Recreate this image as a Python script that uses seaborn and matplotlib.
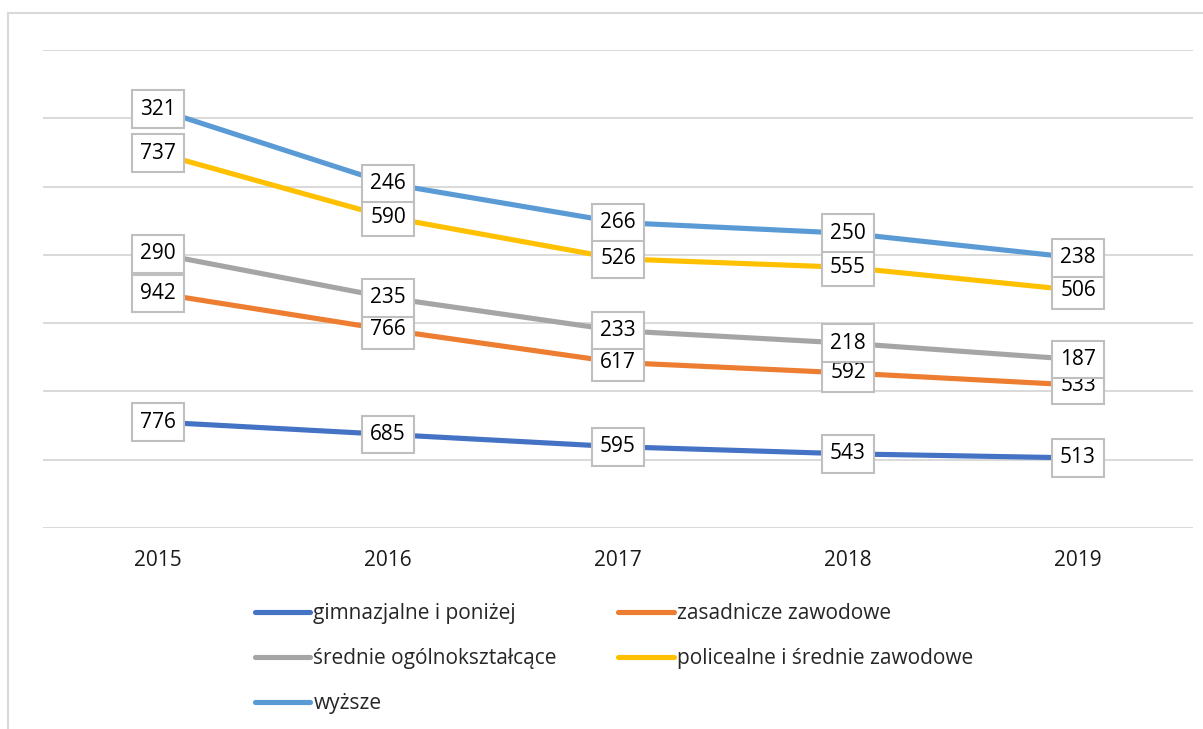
import numpy as np
import pandas as pd
import seaborn as sns
import matplotlib.pyplot as plt
from matplotlib.patches import Rectangle

years = ['2015', '2016', '2017', '2018', '2019']
series = ['gimnazjalne i poniżej', 'zasadnicze zawodowe', 'średnie ogólnokształcące',
          'policealne i średnie zawodowe', 'wyższe']
gimnazjalne = [776, 685, 595, 543, 513]
zasadnicze = [942, 766, 617, 592, 533]
srednie = [290, 235, 233, 218, 187]
policealne = [737, 590, 526, 555, 506]
wyzsze = [321, 246, 266, 250, 238]
colors = ['#4472C4', '#ED7D31', '#A5A5A5', '#FFC000', '#5B9BD5']

vals = np.array([gimnazjalne, zasadnicze, srednie, policealne, wyzsze])
stacked = vals.cumsum(axis=0)  # stacked line chart

rows = []
for i, name in enumerate(series):
    for j, yr in enumerate(years):
        rows.append({'seria': name, 'x': j, 'y': stacked[i, j], 'label': vals[i, j]})
df = pd.DataFrame(rows)

sns.set_style('white')
plt.rcParams['font.family'] = ['Open Sans', 'DejaVu Sans']

fig = plt.figure(figsize=(12.03, 7.29), dpi=100)
ax = fig.add_axes([43/1203, 1 - 528/729, 1150/1203, 478/729])

sns.lineplot(data=df, x='x', y='y', hue='seria', palette=colors, hue_order=series,
             linewidth=3.7, ax=ax, legend=True, zorder=3)

# data labels in white boxes
for i, name in enumerate(series):
    sub = df[df['seria'] == name]
    for _, r in sub.iterrows():
        ax.text(r['x'], r['y'], str(r['label']), ha='center', va='center', fontsize=15,
                color='black', zorder=10 + i,
                bbox=dict(boxstyle='square,pad=0.4', facecolor='white', edgecolor='#BFBFBF', linewidth=1.5))

ax.set_xlim(-0.5, 4.5)
ax.set_ylim(0, 3500)
ax.set_yticks(np.arange(0, 3501, 500))
ax.set_yticklabels([])
ax.set_xticks(range(5))
ax.set_xticklabels(years, fontsize=15, color='#1a1a1a')
ax.tick_params(axis='x', length=0, pad=16)
ax.tick_params(axis='y', length=0)
ax.grid(axis='y', color='#D9D9D9', linewidth=1.4)
ax.set_axisbelow(True)
for s in ax.spines.values():
    s.set_visible(False)
ax.set_xlabel('')
ax.set_ylabel('')

handles, labels = ax.get_legend_handles_labels()
ax.get_legend().remove()
order = [0, 2, 4, 1, 3]
leg = fig.legend([handles[k] for k in order], [labels[k] for k in order], ncol=2,
                 loc='upper left', bbox_to_anchor=(255/1203, 1 - 603/729), frameon=False,
                 fontsize=15, handlelength=2.65, handletextpad=0.15, labelspacing=1.15,
                 columnspacing=2.95, borderpad=0, borderaxespad=0)
for h in leg.get_lines():
    h.set_linewidth(3.7)
    h.set_solid_capstyle('round')

fig.patches.append(Rectangle((8/1203, -0.1), 1.2, 1.1 - 13/729, transform=fig.transFigure,
                             fill=False, edgecolor='#D9D9D9', linewidth=1.5))

fig.savefig('out.png', dpi=100)
